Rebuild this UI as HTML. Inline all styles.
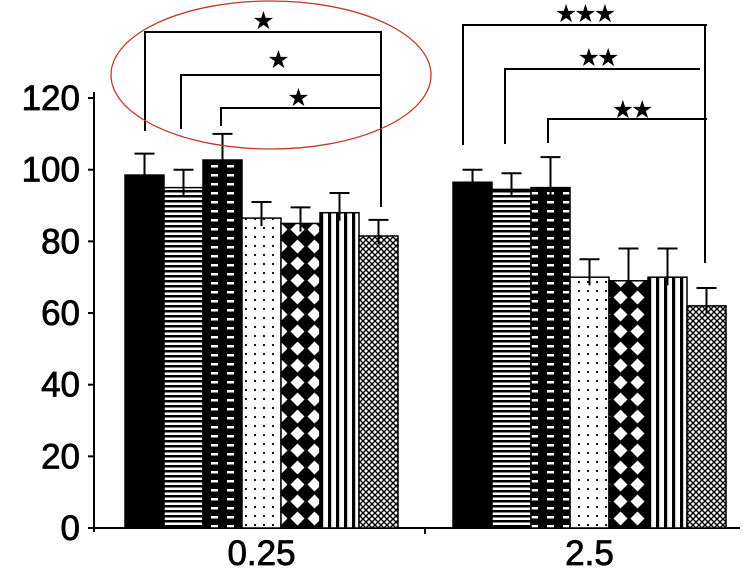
<!DOCTYPE html>
<html><head><meta charset="utf-8"><style>
html,body{margin:0;padding:0;background:#fff;}
svg{display:block;font-family:"Liberation Sans",Arial,sans-serif;}
</style></head><body>
<svg id="chart" width="754" height="571" viewBox="0 0 754 571">
<defs>
<pattern id="p-hlines" patternUnits="userSpaceOnUse" width="8" height="5"><rect width="8" height="5" fill="#fff"/><rect width="8" height="2.5" fill="#000"/></pattern>
<pattern id="p-dashes" patternUnits="userSpaceOnUse" width="16" height="9"><rect width="16" height="9" fill="#000"/><rect x="3" y="3" width="7" height="2.5" fill="#fff"/></pattern>
<pattern id="p-dots" patternUnits="userSpaceOnUse" width="9" height="9"><rect width="9" height="9" fill="#fff"/><circle cx="3" cy="3" r="1.1" fill="#000"/></pattern>
<pattern id="p-diamonds" patternUnits="userSpaceOnUse" width="17" height="17"><rect width="17" height="17" fill="#000"/><polygon points="8.5,1.5 15.5,8.5 8.5,15.5 1.5,8.5" fill="#fff"/></pattern>
<pattern id="p-vlines" patternUnits="userSpaceOnUse" width="8" height="8"><rect width="8" height="8" fill="#fff"/><rect width="3.2" height="8" fill="#000"/></pattern>
<pattern id="p-cross" patternUnits="userSpaceOnUse" width="6" height="6"><rect width="6" height="6" fill="#fff"/><path d="M0,0L6,6M6,0L0,6" stroke="#000" stroke-width="1.4"/></pattern>
</defs>
</svg>
<script>
const groups = ["0.25","2.5"];
const seriesMeans = [
  [98.5,95,102.7,86.5,85,88,81.5],
  [96.5,94.5,95,70,69,70,62]
];
const seriesErr = [
  [6,5,7.3,4.5,4.5,5.5,4.5],
  [3.5,4.5,8.5,5,9,8,5]
];
const yTicks = [0,20,40,60,80,100,120];
const fills = ["#000","url(#p-hlines)","url(#p-dashes)","url(#p-dots)","url(#p-diamonds)","url(#p-vlines)","url(#p-cross)"];
const svg = document.getElementById('chart');
const NS = "http://www.w3.org/2000/svg";
const y0 = 528, pxPer = 3.583;
function Y(v){return y0 - v*pxPer;}
const groupStart = [125,453], barW = 39;
function X(g,i){return groupStart[g] + i*barW;}
function mk(tag, attrs){const e=document.createElementNS(NS,tag);for(const k in attrs)e.setAttribute(k,attrs[k]);svg.appendChild(e);return e;}

let ax = mk('path',{d:"M94,92V532M94,528H740M425,528V534",stroke:"#000","stroke-width":2,fill:"none"});


yTicks.forEach(t=>{
  const tk = mk('line',{x1:88,x2:94,y1:Y(t),y2:Y(t),stroke:"#000","stroke-width":2});
  
  
  const lb = mk('text',{x:80,y:Y(t)+12,"text-anchor":"end","font-size":35,stroke:"#000","stroke-width":0.8});
  lb.textContent = t;
  
  
});
groups.forEach((g,gi)=>{
  const lb = mk('text',{x:X(gi,0)+3.5*barW,y:565,"text-anchor":"middle","font-size":35,stroke:"#000","stroke-width":0.8});
  lb.textContent = g;
  
  
  seriesMeans[gi].forEach((v,i)=>{
    const x = X(gi,i);
    const r = mk('rect',{x:x,y:Y(v),width:barW,height:y0-Y(v),fill:fills[i],stroke:"#000","stroke-width":1.5});
    
    
    const e = v + seriesErr[gi][i], cx = x+barW/2;
    const eb = mk('path',{d:`M${cx},${Y(v)+8}V${Y(e)}M${cx-10},${Y(e)}H${cx+10}`,stroke:"#000","stroke-width":2,fill:"none"});
    
    
  });
});
function bracket(xl,yTop,yLeg,xr,stars,sx,sy){
  const b = mk('path',{d:`M${xl},${yLeg}V${yTop}H${xr}`,stroke:"#000","stroke-width":2,fill:"none"});
  
  
  const t = mk('text',{x:sx,y:sy,"text-anchor":"middle","font-size":25,"letter-spacing":-3,"font-family":"DejaVu Sans, sans-serif"});
  t.textContent = stars;
  
  
}
bracket(145,32,131,381,"★",262,29);
bracket(181,75,129,381,"★",277,68);
bracket(221,108,126,381,"★",297,106);
let rv = mk('line',{x1:381,x2:381,y1:31,y2:207,stroke:"#000","stroke-width":2});


bracket(463,25,145,707,"★★★",584,22);
bracket(505,69,144,700,"★★",597,66);
bracket(548,119,143,707,"★★",631,118);
let rv2 = mk('line',{x1:705,x2:705,y1:24,y2:263,stroke:"#000","stroke-width":2});


let el = mk('ellipse',{cx:271,cy:75,rx:160,ry:74,fill:"none",stroke:"#c0392b","stroke-width":1.3});


</script>
</body></html>
